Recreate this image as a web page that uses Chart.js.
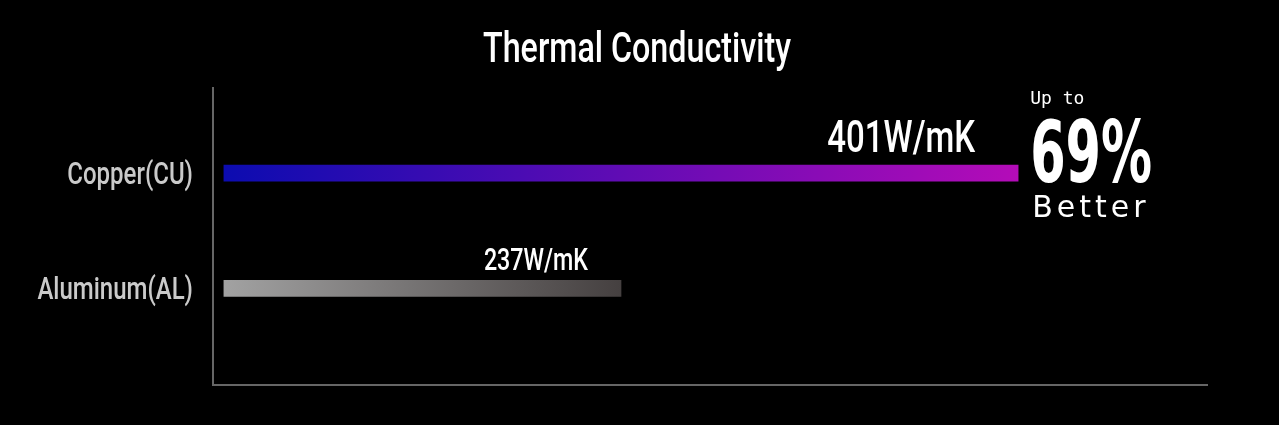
<!DOCTYPE html>
<html>
<head>
<meta charset="utf-8">
<script src="https://cdn.jsdelivr.net/npm/chart.js@4"></script>
<style>
  html, body { margin: 0; padding: 0; background: #000; }
</style>
</head>
<body>
<canvas id="chart" width="1279" height="425"></canvas>
<script>
// =============================
// DATA
// =============================
const materials = ["Copper(CU)", "Aluminum(AL)"];
const conductivity = [401, 237];
const units = "W/mK";
const axisMin = 68.5;
const axisMax = 479;
const barBase = 73;

// gradient stops per bar (left -> right)
const barColors = [
  ["#0c0cb0", "#b40cb8"],
  ["#a2a2a2", "#454040"]
];

// condensed look: no narrow font installed, so squeeze Roboto horizontally
const SQUEEZE = 0.75;
function narrowText(ctx, text, x, y, size, align, weight) {
  ctx.save();
  ctx.font = (weight || "normal") + " " + size + "px Roboto";
  ctx.textBaseline = "alphabetic";
  ctx.textAlign = "left";
  const w = ctx.measureText(text).width * SQUEEZE;
  let left = x;
  if (align === "right") left = x - w;
  if (align === "center") left = x - w / 2;
  ctx.translate(left, y);
  ctx.scale(SQUEEZE, 1);
  ctx.fillText(text, 0, 0);
  ctx.restore();
}

// =============================
// Plugins: title, category labels, value labels, callout
// =============================
const textPlugin = {
  id: "textPlugin",
  afterDatasetsDraw(chart) {
    const ctx = chart.ctx;
    const ys = chart.scales.y;
    const meta = chart.getDatasetMeta(0);
    ctx.save();

    // title
    ctx.fillStyle = "#fff";
    narrowText(ctx, "Thermal Conductivity", 637, 62, 43, "center", "500");

    // category labels at the y scale positions
    ctx.fillStyle = "#cacaca";
    materials.forEach((m, i) => {
      narrowText(ctx, m, ys.left + ys.width - 20, ys.getPixelForValue(i) + 11, 32, "right", "500");
    });

    // value labels above bars
    ctx.fillStyle = "#fff";
    const sizes = [44, 31];
    const offsets = [43, 33];
    const lifts = [13, 10];
    meta.data.forEach((bar, i) => {
      const top = bar.y - bar.height / 2;
      narrowText(ctx, conductivity[i] + units, bar.x - offsets[i], top - lifts[i], sizes[i], "right", "500");
    });

    // callout next to the copper bar
    const best = meta.data[0];
    const pct = Math.round((conductivity[0] / conductivity[1] - 1) * 100);
    const left = best.x + 12;
    ctx.textAlign = "left";
    ctx.textBaseline = "alphabetic";
    ctx.font = "18px 'DejaVu Sans Mono'";
    ctx.fillText("Up to", left, 104);

    ctx.save();
    ctx.translate(left, 182);
    ctx.scale(0.6, 1);
    ctx.font = "bold 85px 'DejaVu Sans'";
    ctx.fillText(pct + "%", 0, 0);
    ctx.restore();

    ctx.font = "30px 'DejaVu Sans'";
    ctx.letterSpacing = "4px";
    ctx.fillText("Better", left + 2, 217);
    ctx.restore();
  }
};

// =============================
// Chart
// =============================
new Chart(document.getElementById("chart"), {
  type: "bar",
  data: {
    datasets: [{
      data: conductivity.map((v, i) => ({ x: v, y: i })),
      base: barBase,
      barThickness: 16,
      borderWidth: 0,
      backgroundColor(c) {
        const chart = c.chart;
        if (!chart.chartArea || c.dataIndex === undefined) return barColors[0][0];
        const xs = chart.scales.x;
        const x0 = xs.getPixelForValue(barBase);
        const x1 = xs.getPixelForValue(conductivity[c.dataIndex]);
        const g = chart.ctx.createLinearGradient(x0, 0, x1, 0);
        g.addColorStop(0, barColors[c.dataIndex][0]);
        g.addColorStop(1, barColors[c.dataIndex][1]);
        return g;
      }
    }]
  },
  options: {
    indexAxis: "y",
    responsive: false,
    animation: false,
    layout: { padding: { top: 88, right: 72, bottom: 40, left: 0 } },
    plugins: {
      legend: { display: false },
      title: { display: false },
      tooltip: { enabled: false }
    },
    scales: {
      x: {
        type: "linear",
        min: axisMin,
        max: axisMax,
        grid: { display: false, drawTicks: false },
        ticks: { display: false },
        border: { display: true, color: "#666", width: 2 },
        afterFit(scale) { scale.height = 0; }
      },
      y: {
        type: "linear",
        reverse: true,
        offset: false,
        min: -0.74,
        max: 1.84,
        grid: { display: false, drawTicks: false, offset: false },
        border: { display: true, color: "#666", width: 2 },
        ticks: { display: false },
        afterFit(scale) { scale.width = 213; }
      }
    }
  },
  plugins: [textPlugin]
});
</script>
</body>
</html>
